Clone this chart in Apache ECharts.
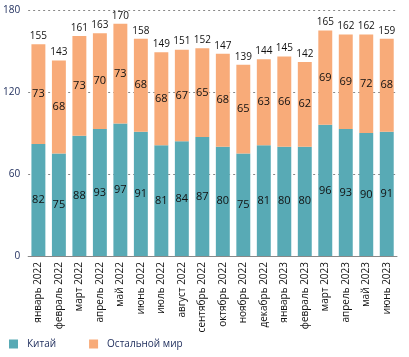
<!DOCTYPE html>
<html><head><meta charset="utf-8">
<script src="https://cdn.jsdelivr.net/npm/echarts@6/dist/echarts.min.js"></script>
<style>html,body{margin:0;padding:0;background:#fff}#c{width:409px;height:357px}</style>
</head><body><div id="c"></div>
<script>
const categories = ["январь 2022","февраль 2022","март 2022","апрель 2022","май 2022","июнь 2022","июль 2022","август 2022","сентябрь 2022","октябрь 2022","ноябрь 2022","декабрь 2022","январь 2023","февраль 2023","март 2023","апрель 2023","май 2023","июнь 2023"];
const china = [82,75,88,93,97,91,81,84,87,80,75,81,80,80,96,93,90,91];
const rest = [73,68,73,70,73,68,68,67,65,68,65,63,66,62,69,69,72,68];
const totals = [155,143,161,163,170,158,149,151,152,147,139,144,145,142,165,162,162,159];
const yTicks = [0,60,120,180];

const font = "Open Sans";
const chart = echarts.init(document.getElementById('c'));
chart.setOption({
  animation:false,
  textStyle:{fontFamily:font},
  grid:{left:27,right:12,top:10,bottom:101},
  legend:{
    left:4, bottom:3, itemWidth:9, itemHeight:9, itemGap:33,
    icon:'rect',
    textStyle:{fontFamily:font,fontSize:10,color:'#1b2a5a',padding:[0,0,0,4]},
    data:['Китай','Остальной мир']
  },
  xAxis:{
    type:'category', data:categories,
    axisLine:{lineStyle:{color:'#888'}},
    axisTick:{show:false},
    axisLabel:{rotate:90,interval:0,fontSize:10,color:'#111',margin:6,fontFamily:font}
  },
  yAxis:{
    type:'value', min:0, max:180, interval:60,
    axisLabel:{fontSize:10,color:'#1b2a5a',margin:8,fontFamily:font,
      formatter:v=>yTicks.includes(v)?String(v):''},
    splitLine:{lineStyle:{color:'#888',type:[2,3],width:1}},
    axisLine:{show:false}, axisTick:{show:false}
  },
  series:[
    {name:'Китай',type:'bar',stack:'s',data:china,barWidth:'68%',
     itemStyle:{color:'#58aab5'},
     label:{show:true,position:'inside',fontSize:11,color:'#111',fontFamily:font}},
    {name:'Остальной мир',type:'bar',stack:'s',data:rest,
     itemStyle:{color:'#f8ab79'},
     label:{show:true,position:'inside',fontSize:11,color:'#111',fontFamily:font}},
    {name:'total',type:'bar',stack:'s',data:totals.map(()=>0),
     itemStyle:{color:'transparent'},
     label:{show:true,position:'top',fontSize:10,color:'#111',distance:3,fontFamily:font,
       formatter:p=>String(totals[p.dataIndex])}}
  ]
});
</script></body></html>
